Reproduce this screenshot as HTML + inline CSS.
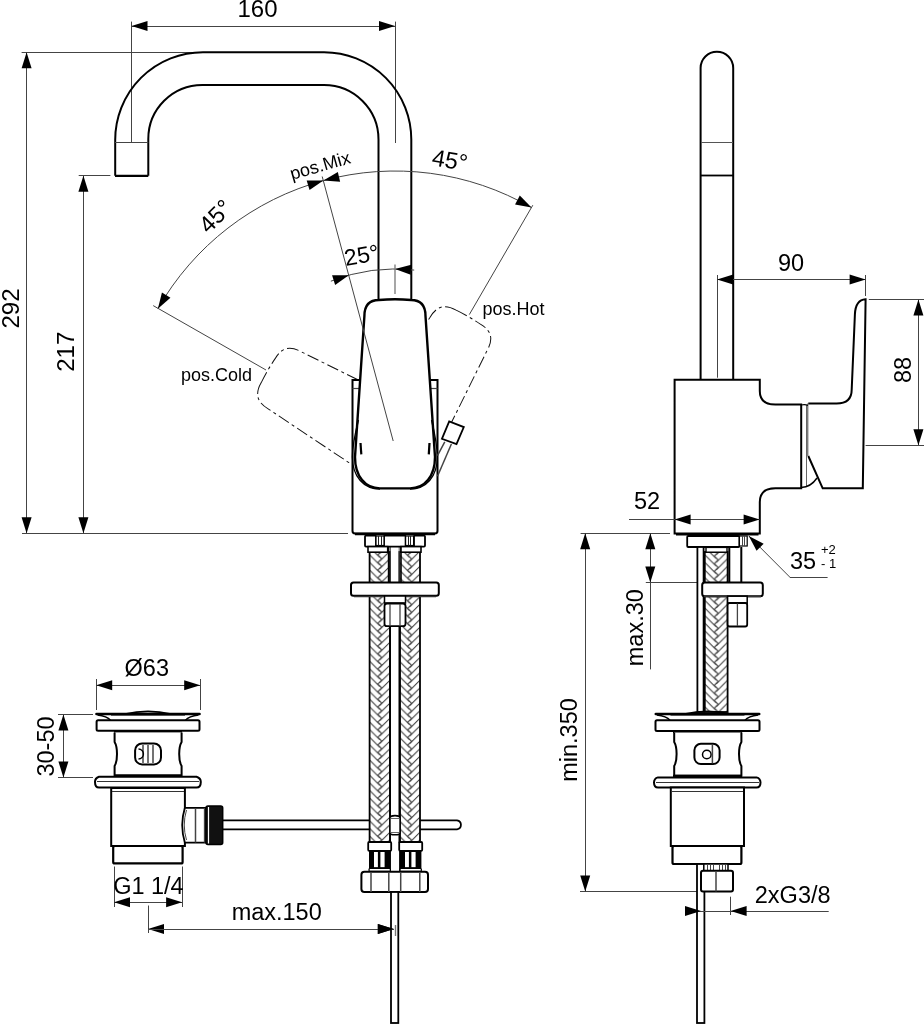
<!DOCTYPE html>
<html><head><meta charset="utf-8"><style>
html,body{margin:0;padding:0;background:#fff;overflow:hidden;width:924px;height:1024px;}
svg{display:block;will-change:transform;}
text{font-family:"Liberation Sans",sans-serif;fill:#000;}
</style></head><body>
<svg width="924" height="1024" viewBox="0 0 924 1024">
<rect width="924" height="1024" fill="#fff"/>
<line x1="131.50" y1="21.60" x2="131.50" y2="143.00" stroke="#444" stroke-width="1.0" />
<line x1="395.50" y1="21.60" x2="395.50" y2="143.00" stroke="#444" stroke-width="1.0" />
<line x1="131.50" y1="26.50" x2="395.00" y2="26.50" stroke="#444" stroke-width="1.0" />
<path d="M131.50,26.00 L147.50,21.00 L147.50,31.00 Z" fill="#000"/>
<path d="M395.00,26.00 L379.00,31.00 L379.00,21.00 Z" fill="#000"/>
<text x="257.50" y="17.00" font-size="24" text-anchor="middle" >160</text>
<line x1="21.60" y1="52.50" x2="205.00" y2="52.50" stroke="#444" stroke-width="1.0" />
<line x1="26.50" y1="52.20" x2="26.50" y2="533.30" stroke="#444" stroke-width="1.0" />
<path d="M26.60,52.20 L31.60,68.20 L21.60,68.20 Z" fill="#000"/>
<path d="M26.60,533.30 L21.60,517.30 L31.60,517.30 Z" fill="#000"/>
<line x1="22.00" y1="533.50" x2="348.00" y2="533.50" stroke="#444" stroke-width="1.0" />
<text x="18.50" y="308.50" font-size="24" text-anchor="middle" transform="rotate(-90 18.50 308.50)" >292</text>
<line x1="78.70" y1="175.50" x2="110.40" y2="175.50" stroke="#444" stroke-width="1.0" />
<line x1="83.50" y1="175.80" x2="83.50" y2="533.30" stroke="#444" stroke-width="1.0" />
<path d="M83.40,175.80 L88.40,191.80 L78.40,191.80 Z" fill="#000"/>
<path d="M83.40,533.30 L78.40,517.30 L88.40,517.30 Z" fill="#000"/>
<text x="74.50" y="351.70" font-size="24" text-anchor="middle" transform="rotate(-90 74.50 351.70)" >217</text>
<path d="M115.2,175.8 L115.2,140 A87.8,87.8 0 0 1 203,52.2 L324,52.2 A87.3,87.3 0 0 1 411.3,139.7 L411.3,301" stroke="#000" stroke-width="2.0" fill="none" />
<path d="M148.3,175.8 L148.3,139 A54,54 0 0 1 202.3,85 L324,85 A54.5,54.5 0 0 1 378.5,139.5 L378.5,301" stroke="#000" stroke-width="2.0" fill="none" />
<line x1="115.00" y1="175.80" x2="148.30" y2="175.80" stroke="#000" stroke-width="2.2" />
<line x1="115.00" y1="142.50" x2="148.30" y2="142.50" stroke="#444" stroke-width="1.0" />
<path d="M157.86,308.74 A273,273 0 0 1 531.50,207.58" stroke="#444" stroke-width="1.0" fill="none" />
<path d="M157.86,308.74 L161.93,292.48 L170.46,297.68 Z" fill="#000"/>
<path d="M323.42,180.55 L309.56,189.98 L306.66,180.41 Z" fill="#000"/>
<path d="M323.42,180.55 L337.81,171.95 L340.15,181.67 Z" fill="#000"/>
<path d="M531.50,207.58 L515.04,204.39 L519.79,195.58 Z" fill="#000"/>
<line x1="153.20" y1="305.60" x2="266.00" y2="370.00" stroke="#444" stroke-width="1.0" />
<line x1="532.80" y1="205.20" x2="469.30" y2="314.60" stroke="#444" stroke-width="1.0" />
<path d="M330.86,281.18 A175,175 0 0 1 414.20,270.06" stroke="#444" stroke-width="1.0" fill="none" />
<path d="M348.82,275.20 L335.14,284.88 L332.06,275.37 Z" fill="#000"/>
<path d="M395.00,269.00 L411.21,264.74 L410.75,274.73 Z" fill="#000"/>
<line x1="395.00" y1="264.60" x2="395.00" y2="293.90" stroke="#777" stroke-width="1.3" />
<clipPath id="clipCold"><path d="M0,0 H924 V380 H352.5 V463 H0 Z"/></clipPath><clipPath id="clipHot"><path d="M0,0 H924 V440 H437.5 V380 H0 Z"/></clipPath>
<g clip-path="url(#clipCold)"><path d="M-14,-146.5 Q0,-147.5 14,-146.5 C27,-146.5 33,-140 33,-127 L42,13 C42,32 30,46 15,46 L-15,46 C-30,46 -42,32 -42,13 L-33,-127 C-33,-140 -27,-146.5 -14,-146.5 Z" transform="translate(395.0 444.0) rotate(-60)" stroke="#111" stroke-width="1.0" fill="#fff" stroke-dasharray="12 3.5 3 3.5"/></g>
<g clip-path="url(#clipHot)"><path d="M-14,-146.5 Q0,-147.5 14,-146.5 C27,-146.5 33,-140 33,-127 L42,13 C42,32 30,46 15,46 L-15,46 C-30,46 -42,32 -42,13 L-33,-127 C-33,-140 -27,-146.5 -14,-146.5 Z" transform="translate(395.0 444.0) rotate(30)" stroke="#111" stroke-width="1.0" fill="#fff" stroke-dasharray="12 3.5 3 3.5"/></g>
<path d="M352.5,380 L437.5,380 L437.5,531 Q437.5,533.4 435,533.4 L355,533.4 Q352.5,533.4 352.5,531 Z" stroke="#000" stroke-width="2.0" fill="#fff" />
<line x1="352.50" y1="388.50" x2="359.60" y2="388.50" stroke="#444" stroke-width="1.2" />
<line x1="430.00" y1="388.50" x2="437.50" y2="388.50" stroke="#444" stroke-width="1.2" />
<line x1="355.00" y1="534.00" x2="435.00" y2="534.00" stroke="#000" stroke-width="2.5" />
<path d="M-16,-144 Q0,-145.5 16,-144 C26,-144 30.5,-138 30.5,-128 L40,13 C40,32 30,44.4 15,44.4 L-15,44.4 C-30,44.4 -40,32 -40,13 L-30.6,-128 C-30.6,-138 -26,-144 -16,-144 Z" transform="translate(395.0 444.0)" stroke="#000" stroke-width="2.4" fill="#fff"/>
<path d="M-36.5,-24 Q-42.6,0 -42.6,13 C-42.6,33 -31,45 -15,45 M36.5,-24 Q42.3,0 42.3,13 C42.3,33 31,45 15,45" transform="translate(395.0 444.0)" stroke="#000" stroke-width="1.3" fill="none"/>
<line x1="360.50" y1="443.00" x2="361.30" y2="454.40" stroke="#000" stroke-width="2.2" />
<line x1="429.50" y1="443.00" x2="428.80" y2="454.40" stroke="#000" stroke-width="2.2" />
<path d="M441.9,438.8 L449.2,421.3 L463.8,427.1 L456.5,444 Z" stroke="#000" stroke-width="1.8" fill="#fff" />
<line x1="444.80" y1="441.80" x2="437.50" y2="455.70" stroke="#444" stroke-width="1.5" />
<line x1="451.40" y1="444.00" x2="437.50" y2="476.20" stroke="#444" stroke-width="1.5" />
<line x1="322.20" y1="176.50" x2="393.20" y2="441.00" stroke="#444" stroke-width="1.0" />
<text x="292.00" y="180.00" font-size="18" text-anchor="start" transform="rotate(-16 292.00 180.00)" >pos.Mix</text>
<text x="181.00" y="381.00" font-size="18" text-anchor="start" >pos.Cold</text>
<text x="482.50" y="314.60" font-size="18" text-anchor="start" >pos.Hot</text>
<text x="221.00" y="222.00" font-size="23.5" text-anchor="middle" transform="rotate(-45 221.00 222.00)" >45°</text>
<text x="448.50" y="168.00" font-size="23.5" text-anchor="middle" transform="rotate(10 448.50 168.00)" >45°</text>
<text x="363.00" y="263.00" font-size="23" text-anchor="middle" transform="rotate(-10 363.00 263.00)" >25°</text>
<defs><pattern id="braid" patternUnits="userSpaceOnUse" width="20.40" height="7.60" x="369.6" y="0"><rect width="20.40" height="7.60" fill="#fff"/><path d="M0,-22.80 L10.20,-12.60 M10.20,-8.80 L20.40,-19.00 M8.00,-14.80 L11.80,-18.60 M12.40,-11.00 L8.60,-14.80 M0,-15.20 L10.20,-5.00 M10.20,-1.20 L20.40,-11.40 M8.00,-7.20 L11.80,-11.00 M12.40,-3.40 L8.60,-7.20 M0,-7.60 L10.20,2.60 M10.20,6.40 L20.40,-3.80 M8.00,0.40 L11.80,-3.40 M12.40,4.20 L8.60,0.40 M0,0.00 L10.20,10.20 M10.20,14.00 L20.40,3.80 M8.00,8.00 L11.80,4.20 M12.40,11.80 L8.60,8.00 M0,7.60 L10.20,17.80 M10.20,21.60 L20.40,11.40 M8.00,15.60 L11.80,11.80 M12.40,19.40 L8.60,15.60 M0,15.20 L10.20,25.40 M10.20,29.20 L20.40,19.00 M8.00,23.20 L11.80,19.40 M12.40,27.00 L8.60,23.20 M0,22.80 L10.20,33.00 M10.20,36.80 L20.40,26.60 M8.00,30.80 L11.80,27.00 M12.40,34.60 L8.60,30.80" stroke="#333" stroke-width="1.0" fill="none"/></pattern><pattern id="braid3" patternUnits="userSpaceOnUse" width="20.60" height="7.60" x="399.4" y="0"><rect width="20.60" height="7.60" fill="#fff"/><path d="M0,-22.80 L10.30,-12.50 M10.30,-8.70 L20.60,-19.00 M8.10,-14.70 L11.90,-18.50 M12.50,-10.90 L8.70,-14.70 M0,-15.20 L10.30,-4.90 M10.30,-1.10 L20.60,-11.40 M8.10,-7.10 L11.90,-10.90 M12.50,-3.30 L8.70,-7.10 M0,-7.60 L10.30,2.70 M10.30,6.50 L20.60,-3.80 M8.10,0.50 L11.90,-3.30 M12.50,4.30 L8.70,0.50 M0,0.00 L10.30,10.30 M10.30,14.10 L20.60,3.80 M8.10,8.10 L11.90,4.30 M12.50,11.90 L8.70,8.10 M0,7.60 L10.30,17.90 M10.30,21.70 L20.60,11.40 M8.10,15.70 L11.90,11.90 M12.50,19.50 L8.70,15.70 M0,15.20 L10.30,25.50 M10.30,29.30 L20.60,19.00 M8.10,23.30 L11.90,19.50 M12.50,27.10 L8.70,23.30 M0,22.80 L10.30,33.10 M10.30,36.90 L20.60,26.60 M8.10,30.90 L11.90,27.10 M12.50,34.70 L8.70,30.90" stroke="#333" stroke-width="1.0" fill="none"/></pattern><pattern id="braid2" patternUnits="userSpaceOnUse" width="22.80" height="7.60" x="704.8" y="0"><rect width="22.80" height="7.60" fill="#fff"/><path d="M0,-22.80 L11.40,-11.40 M11.40,-7.60 L22.80,-19.00 M9.20,-13.60 L13.00,-17.40 M13.60,-9.80 L9.80,-13.60 M0,-15.20 L11.40,-3.80 M11.40,0.00 L22.80,-11.40 M9.20,-6.00 L13.00,-9.80 M13.60,-2.20 L9.80,-6.00 M0,-7.60 L11.40,3.80 M11.40,7.60 L22.80,-3.80 M9.20,1.60 L13.00,-2.20 M13.60,5.40 L9.80,1.60 M0,0.00 L11.40,11.40 M11.40,15.20 L22.80,3.80 M9.20,9.20 L13.00,5.40 M13.60,13.00 L9.80,9.20 M0,7.60 L11.40,19.00 M11.40,22.80 L22.80,11.40 M9.20,16.80 L13.00,13.00 M13.60,20.60 L9.80,16.80 M0,15.20 L11.40,26.60 M11.40,30.40 L22.80,19.00 M9.20,24.40 L13.00,20.60 M13.60,28.20 L9.80,24.40 M0,22.80 L11.40,34.20 M11.40,38.00 L22.80,26.60 M9.20,32.00 L13.00,28.20 M13.60,35.80 L9.80,32.00" stroke="#333" stroke-width="1.0" fill="none"/></pattern></defs>
<path d="M222.7,820.3 L457,820.3 A4.6,4.6 0 0 1 457,829.4 L222.7,829.4" stroke="#000" stroke-width="1.8" fill="#fff" />
<rect x="369.6" y="552" width="20.40" height="290" fill="url(#braid)" stroke="#000" stroke-width="1.8"/>
<rect x="399.4" y="552" width="20.60" height="290" fill="url(#braid3)" stroke="#000" stroke-width="1.8"/>
<path d="M388.6,546.6 L388.6,582.5 M401,546.6 L401,582.5" stroke="#000" stroke-width="1.6" fill="none" />
<path d="M390.4,547 L390.4,582.5 M399.2,547 L399.2,582.5" stroke="#444" stroke-width="0.9" fill="none" />
<rect x="365" y="535.6" width="11" height="11" rx="1" fill="#fff" stroke="#000" stroke-width="1.8"/>
<rect x="414" y="535.6" width="11" height="11" rx="1" fill="#fff" stroke="#000" stroke-width="1.8"/>
<rect x="384" y="535.6" width="21.6" height="11" rx="1" fill="#fff" stroke="#000" stroke-width="1.8"/>
<rect x="376" y="536" width="8" height="9.5" fill="#fff" stroke="#000" stroke-width="1.2"/>
<line x1="378.50" y1="536.00" x2="378.50" y2="545.50" stroke="#222" stroke-width="1.0" />
<line x1="381.50" y1="536.00" x2="381.50" y2="545.50" stroke="#222" stroke-width="1.0" />
<rect x="405.6" y="536" width="8" height="9.5" fill="#fff" stroke="#000" stroke-width="1.2"/>
<line x1="408.50" y1="536.00" x2="408.50" y2="545.50" stroke="#222" stroke-width="1.0" />
<line x1="410.50" y1="536.00" x2="410.50" y2="545.50" stroke="#222" stroke-width="1.0" />
<rect x="368" y="546.6" width="19.7" height="5.6" fill="#fff" stroke="#000" stroke-width="1.6"/>
<rect x="401" y="546.6" width="20" height="5.6" fill="#fff" stroke="#000" stroke-width="1.6"/>
<rect x="351" y="582.5" width="87.8" height="13.3" rx="2.5" fill="#fff" stroke="#000" stroke-width="2"/>
<line x1="354.00" y1="596.50" x2="436.00" y2="596.50" stroke="#333" stroke-width="1.5" />
<rect x="384.5" y="596" width="21" height="7" fill="#fff" stroke="#000" stroke-width="1.5"/>
<rect x="384.5" y="603.5" width="21" height="22.7" rx="2.5" fill="#fff" stroke="#000" stroke-width="1.8"/>
<line x1="390.00" y1="604.00" x2="390.00" y2="626.00" stroke="#444" stroke-width="1.3" />
<line x1="400.00" y1="604.00" x2="400.00" y2="626.00" stroke="#444" stroke-width="1.3" />
<path d="M390,626.2 L390,871.7 M400,626.2 L400,871.7" stroke="#000" stroke-width="1.8" fill="none" />
<path d="M389.9,818 Q389.9,815.6 395,815.6 Q400.1,815.6 400.1,818 L400.1,832.4 Q400.1,834.8 395,834.8 Q389.9,834.8 389.9,832.4 Z" stroke="#000" stroke-width="1.6" fill="#fff" />
<line x1="390.50" y1="818.50" x2="399.50" y2="818.50" stroke="#555" stroke-width="0.9" />
<line x1="390.50" y1="832.50" x2="399.50" y2="832.50" stroke="#555" stroke-width="0.9" />
<rect x="368.2" y="842" width="23" height="8.8" rx="1" fill="#fff" stroke="#000" stroke-width="1.8"/>
<rect x="369.0" y="850.8" width="21.4" height="17.6" fill="#000"/>
<rect x="374.0" y="852" width="3.8999999999999995" height="15.2" fill="#fff"/>
<rect x="380.4" y="852" width="4.199999999999999" height="15.2" fill="#fff"/>
<rect x="369.0" y="868.4" width="21.4" height="3" rx="1.2" fill="#fff" stroke="#000" stroke-width="1.2"/>
<rect x="399.2" y="842" width="23" height="8.8" rx="1" fill="#fff" stroke="#000" stroke-width="1.8"/>
<rect x="400.0" y="850.8" width="21.4" height="17.6" fill="#000"/>
<rect x="405.0" y="852" width="3.8999999999999995" height="15.2" fill="#fff"/>
<rect x="411.4" y="852" width="4.199999999999999" height="15.2" fill="#fff"/>
<rect x="400.0" y="868.4" width="21.4" height="3" rx="1.2" fill="#fff" stroke="#000" stroke-width="1.2"/>
<rect x="361.4" y="871.7" width="66.6" height="20.3" rx="3" fill="#fff" stroke="#000" stroke-width="2"/>
<line x1="371.00" y1="872.00" x2="371.00" y2="892.00" stroke="#444" stroke-width="1.5" />
<line x1="388.80" y1="872.00" x2="388.80" y2="892.00" stroke="#444" stroke-width="1.5" />
<line x1="400.70" y1="872.00" x2="400.70" y2="892.00" stroke="#444" stroke-width="1.5" />
<line x1="419.80" y1="872.00" x2="419.80" y2="892.00" stroke="#444" stroke-width="1.5" />
<rect x="391" y="892" width="7.3" height="131" fill="#fff" stroke="#000" stroke-width="1.8"/>
<path d="M96.5,714 L199.5,714" stroke="#000" stroke-width="2.6" fill="none" stroke-linecap="round"/>
<path d="M125,714 Q148,708.8 171,714" stroke="#000" stroke-width="1.7" fill="none" />
<path d="M97.5,715 Q107,716 110.5,720.2 M198.5,715 Q189,716 185.5,720.2" stroke="#000" stroke-width="1.4" fill="none" />
<line x1="111.00" y1="715.50" x2="185.00" y2="715.50" stroke="#555" stroke-width="1.0" />
<rect x="96.6" y="720.2" width="102.9" height="10.5" rx="1.5" fill="#fff" stroke="#000" stroke-width="2"/>
<line x1="114.00" y1="731.60" x2="182.00" y2="731.60" stroke="#000" stroke-width="2.5" />
<path d="M114.6,732.4 L114.6,742 Q117,746 117,754 Q117,762 114.6,766 L114.6,775.5 L181.6,775.5 L181.6,766 Q179.2,762 179.2,754 Q179.2,746 181.6,742 L181.6,732.4" stroke="#000" stroke-width="2" fill="#fff" />
<rect x="135.1" y="743.5" width="25.9" height="20.9" rx="7" fill="#fff" stroke="#000" stroke-width="2"/>
<line x1="143.00" y1="745.00" x2="143.00" y2="763.00" stroke="#444" stroke-width="1.5" />
<line x1="148.00" y1="745.00" x2="148.00" y2="763.00" stroke="#444" stroke-width="1.5" />
<line x1="153.00" y1="745.00" x2="153.00" y2="763.00" stroke="#444" stroke-width="1.5" />
<path d="M138.5,749 A5,5 0 0 1 138.5,759" stroke="#000" stroke-width="1.3" fill="none" />
<line x1="114.00" y1="775.80" x2="182.00" y2="775.80" stroke="#000" stroke-width="2.5" />
<path d="M99,776.7 L196.5,776.7 Q200.8,778 200.8,782 Q200.8,787.6 196.5,787.6 L99,787.6 Q95,787.6 95,782 Q95,778 99,776.7 Z" stroke="#000" stroke-width="2" fill="#fff" />
<line x1="97.00" y1="781.50" x2="199.00" y2="781.50" stroke="#333" stroke-width="1.2" />
<rect x="111.2" y="788" width="73.7" height="58" fill="#fff" stroke="#000" stroke-width="2"/>
<line x1="112.00" y1="791.50" x2="184.00" y2="791.50" stroke="#333" stroke-width="1.2" />
<path d="M184.9,807.8 L206,807.8 L206,842.7 L184.9,842.7 Q179.5,825 184.9,807.8 Z" stroke="#000" stroke-width="1.8" fill="#fff" />
<path d="M186.5,810 Q182,825 186.5,840" stroke="#444" stroke-width="1.0" fill="none" />
<line x1="195.50" y1="808.00" x2="195.50" y2="842.50" stroke="#444" stroke-width="1.5" />
<line x1="204.50" y1="808.00" x2="204.50" y2="842.50" stroke="#444" stroke-width="1.3" />
<rect x="206" y="806" width="16.7" height="38.4" rx="2" fill="#111" stroke="#000" stroke-width="1.5"/>
<line x1="208.50" y1="807.00" x2="208.50" y2="843.50" stroke="#fff" stroke-width="1.2" />
<rect x="113.2" y="846" width="69.4" height="17.4" rx="1.5" fill="#fff" stroke="#000" stroke-width="2.2"/>
<line x1="96.50" y1="679.00" x2="96.50" y2="710.00" stroke="#444" stroke-width="1.0" />
<line x1="200.50" y1="679.00" x2="200.50" y2="710.00" stroke="#444" stroke-width="1.0" />
<line x1="96.20" y1="685.50" x2="200.20" y2="685.50" stroke="#444" stroke-width="1.0" />
<path d="M96.20,685.20 L112.20,680.20 L112.20,690.20 Z" fill="#000"/>
<path d="M200.20,685.20 L184.20,690.20 L184.20,680.20 Z" fill="#000"/>
<text x="146.80" y="675.80" font-size="23.5" text-anchor="middle" >Ø63</text>
<line x1="58.00" y1="714.50" x2="93.00" y2="714.50" stroke="#444" stroke-width="1.0" />
<line x1="58.00" y1="777.50" x2="93.00" y2="777.50" stroke="#444" stroke-width="1.0" />
<line x1="63.50" y1="714.50" x2="63.50" y2="777.50" stroke="#444" stroke-width="1.0" />
<path d="M63.40,714.50 L68.40,730.50 L58.40,730.50 Z" fill="#000"/>
<path d="M63.40,777.50 L58.40,761.50 L68.40,761.50 Z" fill="#000"/>
<text x="53.70" y="746.50" font-size="23.5" text-anchor="middle" transform="rotate(-90 53.70 746.50)" >30-50</text>
<line x1="114.50" y1="866.50" x2="114.50" y2="907.00" stroke="#444" stroke-width="1.0" />
<line x1="182.50" y1="866.50" x2="182.50" y2="907.00" stroke="#444" stroke-width="1.0" />
<line x1="114.00" y1="902.50" x2="182.10" y2="902.50" stroke="#444" stroke-width="1.0" />
<path d="M114.00,902.20 L130.00,897.20 L130.00,907.20 Z" fill="#000"/>
<path d="M182.10,902.20 L166.10,907.20 L166.10,897.20 Z" fill="#000"/>
<text x="148.40" y="894.00" font-size="23.5" text-anchor="middle" >G1 1/4</text>
<line x1="148.50" y1="905.50" x2="148.50" y2="933.00" stroke="#444" stroke-width="1.0" />
<line x1="148.00" y1="929.50" x2="393.80" y2="929.50" stroke="#444" stroke-width="1.0" />
<path d="M148.00,929.10 L164.00,924.10 L164.00,934.10 Z" fill="#000"/>
<path d="M393.80,929.10 L377.80,934.10 L377.80,924.10 Z" fill="#000"/>
<line x1="395.50" y1="925.00" x2="395.50" y2="936.00" stroke="#777" stroke-width="1.2" />
<text x="276.70" y="920.20" font-size="23.5" text-anchor="middle" >max.150</text>
<path d="M700.6,380 L700.6,68 A16.3,16.3 0 0 1 733.2,68 L733.2,380" stroke="#000" stroke-width="2.0" fill="none" />
<line x1="701.00" y1="142.50" x2="733.00" y2="142.50" stroke="#555" stroke-width="1.0" />
<line x1="701.00" y1="175.50" x2="733.00" y2="175.50" stroke="#000" stroke-width="1.8" />
<line x1="717.50" y1="275.00" x2="717.50" y2="377.70" stroke="#444" stroke-width="1.0" />
<line x1="865.50" y1="275.00" x2="865.50" y2="296.00" stroke="#444" stroke-width="1.0" />
<line x1="717.10" y1="279.50" x2="865.60" y2="279.50" stroke="#444" stroke-width="1.0" />
<path d="M717.10,279.60 L733.10,274.60 L733.10,284.60 Z" fill="#000"/>
<path d="M865.60,279.60 L849.60,284.60 L849.60,274.60 Z" fill="#000"/>
<text x="791.00" y="270.50" font-size="23.5" text-anchor="middle" >90</text>
<line x1="868.80" y1="299.50" x2="924.00" y2="299.50" stroke="#444" stroke-width="1.0" />
<line x1="865.60" y1="445.50" x2="924.00" y2="445.50" stroke="#444" stroke-width="1.0" />
<line x1="918.50" y1="299.40" x2="918.50" y2="445.30" stroke="#444" stroke-width="1.0" />
<path d="M918.40,299.40 L923.40,315.40 L913.40,315.40 Z" fill="#000"/>
<path d="M918.40,445.30 L913.40,429.30 L923.40,429.30 Z" fill="#000"/>
<text x="910.50" y="370.00" font-size="23.5" text-anchor="middle" transform="rotate(-90 910.50 370.00)" >88</text>
<path d="M674.6,379.8 L759.8,379.8 L759.8,391 Q759.8,404.5 775.4,404.5 L801.2,404.5 L801.2,488.3 L775.4,488.3 Q759.8,488.3 759.8,502 L759.8,533.6 L674.6,533.6 Z" stroke="#000" stroke-width="2.0" fill="#fff" />
<line x1="676.00" y1="534.20" x2="758.50" y2="534.20" stroke="#000" stroke-width="2.6" />
<line x1="808.30" y1="403.50" x2="808.30" y2="456.00" stroke="#444" stroke-width="2.0" />
<line x1="806.50" y1="405.00" x2="806.50" y2="486.00" stroke="#555" stroke-width="0.9" />
<path d="M801.2,405 Q805,404 808.3,405.5" stroke="#000" stroke-width="1.2" fill="none" />
<path d="M801.2,487.5 Q811,487 817,478" stroke="#000" stroke-width="1.4" fill="none" />
<path d="M808.3,403.5 L836.6,403.5 Q851.7,403.5 851.7,389.5 L854.9,314.4 Q855.5,300 865.6,299.3 L862.8,488.3 L822.7,488.3 L808.3,456" stroke="#000" stroke-width="2.0" fill="#fff" />
<line x1="629.00" y1="519.50" x2="759.60" y2="519.50" stroke="#444" stroke-width="1.0" />
<path d="M674.60,519.60 L690.60,514.60 L690.60,524.60 Z" fill="#000"/>
<path d="M759.60,519.60 L743.60,524.60 L743.60,514.60 Z" fill="#000"/>
<text x="647.00" y="509.40" font-size="23.5" text-anchor="middle" >52</text>
<line x1="748.80" y1="536.00" x2="789.70" y2="577.00" stroke="#444" stroke-width="1.0" />
<line x1="789.70" y1="577.50" x2="827.60" y2="577.50" stroke="#444" stroke-width="1.0" />
<path d="M748.80,536.00 L763.65,543.78 L756.58,550.85 Z" fill="#000"/>
<text x="803.00" y="569.00" font-size="23.5" text-anchor="middle" >35</text>
<text x="821.00" y="554.00" font-size="13" text-anchor="start" >+2</text>
<text x="821.00" y="568.00" font-size="13" text-anchor="start" >- 1</text>
<line x1="580.60" y1="533.50" x2="670.00" y2="533.50" stroke="#444" stroke-width="1.0" />
<line x1="580.00" y1="891.50" x2="701.00" y2="891.50" stroke="#444" stroke-width="1.0" />
<line x1="585.50" y1="533.30" x2="585.50" y2="891.60" stroke="#444" stroke-width="1.0" />
<path d="M585.20,533.30 L590.20,549.30 L580.20,549.30 Z" fill="#000"/>
<path d="M585.20,891.60 L580.20,875.60 L590.20,875.60 Z" fill="#000"/>
<text x="576.80" y="740.00" font-size="23.5" text-anchor="middle" transform="rotate(-90 576.80 740.00)" >min.350</text>
<line x1="645.80" y1="582.50" x2="697.30" y2="582.50" stroke="#444" stroke-width="1.0" />
<line x1="650.50" y1="533.30" x2="650.50" y2="669.40" stroke="#444" stroke-width="1.0" />
<path d="M650.30,533.30 L655.30,549.30 L645.30,549.30 Z" fill="#000"/>
<path d="M650.30,582.40 L645.30,566.40 L655.30,566.40 Z" fill="#000"/>
<text x="642.70" y="627.70" font-size="23.5" text-anchor="middle" transform="rotate(-90 642.70 627.70)" >max.30</text>
<rect x="687.2" y="536" width="52.2" height="11" rx="1" fill="#fff" stroke="#000" stroke-width="1.8"/>
<rect x="739.4" y="536" width="7.8" height="10" fill="#fff" stroke="#000" stroke-width="1.2"/>
<line x1="742.50" y1="536.00" x2="742.50" y2="546.00" stroke="#444" stroke-width="1" />
<line x1="744.50" y1="536.00" x2="744.50" y2="546.00" stroke="#444" stroke-width="1" />
<rect x="697.4" y="547" width="6.2" height="165" fill="#fff" stroke="#000" stroke-width="1.8"/>
<rect x="704.8" y="552" width="22.8" height="160" fill="url(#braid2)" stroke="#000" stroke-width="1.8"/>
<rect x="706" y="547.4" width="21" height="4.8" fill="#fff" stroke="#000" stroke-width="1.4"/>
<path d="M729.3,547 L729.3,582.5 M741.3,547 L741.3,582.5" stroke="#000" stroke-width="2.0" fill="none" />
<rect x="702.2" y="582.5" width="60.6" height="13.7" rx="2.5" fill="#fff" stroke="#000" stroke-width="2"/>
<line x1="704.00" y1="596.60" x2="761.00" y2="596.60" stroke="#333" stroke-width="1.5" />
<rect x="727.6" y="596.2" width="19.6" height="7" fill="#fff" stroke="#000" stroke-width="1.5"/>
<rect x="727.6" y="603" width="19.6" height="23.5" rx="2" fill="#fff" stroke="#000" stroke-width="1.8"/>
<line x1="737.40" y1="603.50" x2="737.40" y2="626.00" stroke="#444" stroke-width="1.3" />
<path d="M655.8,714 L759.2,714" stroke="#000" stroke-width="2.6" fill="none" stroke-linecap="round"/>
<path d="M684.5,714 Q707.5,708.8 730.5,714" stroke="#000" stroke-width="1.7" fill="none" />
<path d="M656.8,715 Q666.5,716 670,720.3 M758.2,715 Q748.5,716 745,720.3" stroke="#000" stroke-width="1.4" fill="none" />
<line x1="670.50" y1="715.50" x2="744.50" y2="715.50" stroke="#555" stroke-width="1.0" />
<rect x="655.5" y="720.3" width="104" height="10.7" rx="1.5" fill="#fff" stroke="#000" stroke-width="2"/>
<line x1="673.00" y1="731.80" x2="742.00" y2="731.80" stroke="#000" stroke-width="2.5" />
<path d="M674.2,732.4 L674.2,742 Q676.6,746 676.6,754 Q676.6,762 674.2,766 L674.2,775.7 L741.4,775.7 L741.4,766 Q739,762 739,754 Q739,746 741.4,742 L741.4,732.4" stroke="#000" stroke-width="2" fill="#fff" />
<rect x="694.4" y="743.8" width="25.2" height="20.2" rx="6.5" fill="#fff" stroke="#000" stroke-width="2"/>
<circle cx="706.8" cy="754.5" r="4.3" fill="#fff" stroke="#000" stroke-width="1.5"/>
<line x1="712.40" y1="745.00" x2="712.40" y2="763.50" stroke="#444" stroke-width="1.5" />
<line x1="673.00" y1="776.00" x2="742.00" y2="776.00" stroke="#000" stroke-width="2.5" />
<path d="M658,777.4 L756.5,777.4 Q760.5,778.5 760.5,782.5 Q760.5,787.5 756.5,787.5 L658,787.5 Q654,787.5 654,782.5 Q654,778.5 658,777.4 Z" stroke="#000" stroke-width="2" fill="#fff" />
<line x1="656.00" y1="782.50" x2="759.00" y2="782.50" stroke="#333" stroke-width="1.2" />
<rect x="670.8" y="787.5" width="73.2" height="58.5" fill="#fff" stroke="#000" stroke-width="2"/>
<line x1="672.00" y1="791.50" x2="743.00" y2="791.50" stroke="#333" stroke-width="1.2" />
<rect x="672.5" y="846" width="68.9" height="18" rx="1.5" fill="#fff" stroke="#000" stroke-width="2.2"/>
<rect x="697" y="864" width="7.4" height="159" fill="#fff" stroke="#000" stroke-width="1.8"/>
<rect x="703.8" y="864" width="24.2" height="7" fill="#fff" stroke="#000" stroke-width="1.5"/>
<line x1="707.50" y1="864.50" x2="707.50" y2="870.50" stroke="#444" stroke-width="1.0" />
<line x1="710.50" y1="864.50" x2="710.50" y2="870.50" stroke="#444" stroke-width="1.0" />
<line x1="713.50" y1="864.50" x2="713.50" y2="870.50" stroke="#444" stroke-width="1.0" />
<line x1="719.50" y1="864.50" x2="719.50" y2="870.50" stroke="#444" stroke-width="1.0" />
<line x1="722.50" y1="864.50" x2="722.50" y2="870.50" stroke="#444" stroke-width="1.0" />
<line x1="725.50" y1="864.50" x2="725.50" y2="870.50" stroke="#444" stroke-width="1.0" />
<rect x="701" y="870.8" width="32" height="20.8" rx="2" fill="#fff" stroke="#000" stroke-width="2"/>
<line x1="716.00" y1="871.00" x2="716.00" y2="891.50" stroke="#444" stroke-width="1.5" />
<line x1="730.50" y1="896.70" x2="730.50" y2="915.00" stroke="#444" stroke-width="1.0" />
<line x1="686.00" y1="911.50" x2="828.70" y2="911.50" stroke="#444" stroke-width="1.0" />
<path d="M701.00,911.00 L685.00,916.00 L685.00,906.00 Z" fill="#000"/>
<path d="M730.60,911.00 L746.60,906.00 L746.60,916.00 Z" fill="#000"/>
<text x="754.80" y="903.40" font-size="23.5" text-anchor="start" >2xG3/8</text>
<line x1="148.00" y1="929.50" x2="393.80" y2="929.50" stroke="#444" stroke-width="1.0" />
<path d="M393.80,929.10 L377.80,934.10 L377.80,924.10 Z" fill="#000"/>
<line x1="395.50" y1="925.00" x2="395.50" y2="936.00" stroke="#777" stroke-width="1.2" />
</svg></body></html>
